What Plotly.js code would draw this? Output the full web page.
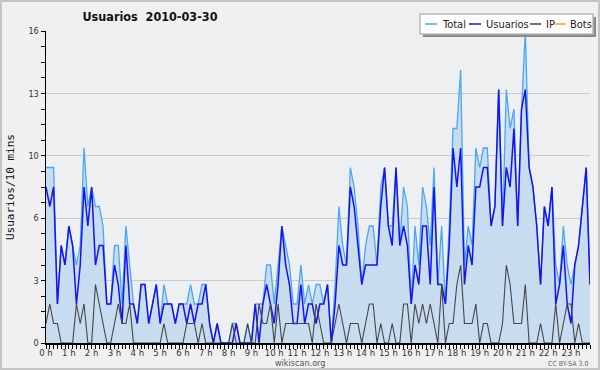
<!DOCTYPE html>
<html>
<head>
<meta charset="utf-8">
<script src="https://cdn.plot.ly/plotly-3.0.1.min.js"></script>
<style>
  html, body { margin: 0; padding: 0; background: #f0f0f0; }
  #wrap { position: relative; width: 600px; height: 370px; }
  #chart { width: 600px; height: 370px; }
  #frame { position: absolute; left: 0; top: 0; width: 600px; height: 370px; box-sizing: border-box; border: 2px solid #c4c4c4; pointer-events: none; }
</style>
</head>
<body>
<div id="wrap"><div id="chart"></div><div id="frame"></div></div>
<script>
// ---- data (one value per 10 minutes, 2010-03-30) ----
const hourLabels = ["0 h","1 h","2 h","3 h","4 h","5 h","6 h","7 h","8 h","9 h","10 h","11 h",
                    "12 h","13 h","14 h","15 h","16 h","17 h","18 h","19 h","20 h","21 h","22 h","23 h"];
const yTickVals = [0, 3.2, 6.4, 9.6, 12.8, 16];
const yTickText = ["0", "3", "6", "10", "13", "16"];

const total = [
  9,9,9,2,5,4,6,5,4,5,
  10,7,8,7,7,6,2,2,5,5,
  2,6,4,2,1,3,3,1,2,3,
  1,3,2,2,1,2,2,2,3,2,
  2,3,3,1,0,1,0,0,0,1,
  1,0,0,1,0,2,2,2,4,4,
  2,4,6,5,4,2,2,4,2,3,
  2,3,3,2,3,0,3,7,5,4,
  9,8,6,3,5,6,6,4,8,9,
  6,6,9,5,8,7,2,6,4,8,
  7,5,9,3,6,2,6,11,11,14,
  4,6,5,10,9,10,10,6,7,13,
  6,13,11,12,6,12,16,9,8,6,
  3,7,6,8,4,3,6,4,3,4,
  5,7,9,3];
const usuarios = [
  8,7,8,2,5,4,6,5,2,4,
  8,6,8,4,5,5,2,2,4,3,
  1,5,2,2,1,3,3,1,2,3,
  1,2,2,2,1,2,2,1,2,1,
  2,2,3,1,0,1,0,0,0,0,
  1,0,0,0,0,2,0,2,3,2,
  1,3,6,4,3,1,1,3,1,2,
  2,1,2,2,3,0,2,5,4,4,
  8,7,5,3,4,4,4,4,7,9,
  6,5,9,5,6,5,2,4,3,6,
  6,3,8,3,3,2,5,10,8,10,
  3,5,4,8,8,9,9,6,7,13,
  6,9,8,11,6,12,13,9,8,6,
  3,7,6,8,2,3,5,2,1,4,
  5,7,9,3];
const ip = [
  1,2,1,1,0,0,0,0,2,1,
  2,0,0,3,2,1,0,0,1,2,
  1,1,2,0,0,0,0,0,0,0,
  0,1,0,0,0,0,0,1,1,1,
  0,1,0,0,0,0,0,0,0,1,
  0,0,0,1,0,0,2,1,1,2,
  0,2,0,1,1,1,1,1,1,1,
  0,2,1,0,0,0,1,2,1,0,
  1,1,1,0,1,2,2,0,1,0,
  0,1,0,0,2,2,0,2,1,2,
  1,2,1,0,3,0,1,1,3,4,
  1,1,1,2,0,1,1,0,0,0,
  1,4,3,1,1,1,3,0,0,0,
  1,0,0,0,2,0,1,2,2,0,
  1,0,0,0];
const seriesNames = ["Total", "Usuarios", "IP", "Bots"];
const seriesColors = ["#4ba6f5", "#1414f0", "#454545", "#ffa31a"];

// time axis: hours, one sample every 10 minutes
const hours = total.map((_, i) => i * 10 / 60);
const hourTicks = hourLabels.map((_, h) => h);

// ---- layout helpers (pixel -> paper coordinates) ----
const L = 46, R = 10, T = 31, B = 27, W = 600, H = 370;
const PW = W - L - R, PH = H - T - B;
const xp = px => (px - L) / PW;
const yp = py => (H - B - py) / PH;

const FONT = "DejaVu Sans Condensed, DejaVu Sans, sans-serif";

const traces = [
  { x: hours, y: total, type: "scatter", mode: "lines", name: seriesNames[0],
    line: { color: seriesColors[0], width: 1.3 }, fill: "tozeroy", fillcolor: "#c7dcef",
    hoverinfo: "skip" },
  { x: hours, y: usuarios, type: "scatter", mode: "lines", name: seriesNames[1],
    line: { color: seriesColors[1], width: 1.5 }, hoverinfo: "skip" },
  { x: hours, y: ip, type: "scatter", mode: "lines", name: seriesNames[2],
    line: { color: seriesColors[2], width: 1.1 }, hoverinfo: "skip" }
];

// custom legend (box, shadow, samples, labels)
const legBox = { x0: 420, x1: 593, y0: 14, y1: 34 };
const legItems = [
  { lx0: 425, lx1: 437, tx: 440 },
  { lx0: 469, lx1: 481, tx: 484 },
  { lx0: 530, lx1: 541, tx: 544 },
  { lx0: 555, lx1: 566, tx: 568 }
];
const legY = 24;

const shapes = [
  { type: "rect", xref: "paper", yref: "paper", layer: "above",
    x0: xp(legBox.x0 + 3), x1: xp(legBox.x1 + 3), y0: yp(legBox.y1 + 3), y1: yp(legBox.y0 + 3),
    fillcolor: "#8a8a8a", line: { width: 0 } },
  { type: "rect", xref: "paper", yref: "paper", layer: "above",
    x0: xp(legBox.x0), x1: xp(legBox.x1), y0: yp(legBox.y1), y1: yp(legBox.y0),
    fillcolor: "#ffffff", line: { color: "#b8b8b8", width: 1.5 } }
];
const annotations = [];
legItems.forEach((it, k) => {
  shapes.push({ type: "line", xref: "paper", yref: "paper", layer: "above",
    x0: xp(it.lx0), x1: xp(it.lx1), y0: yp(legY), y1: yp(legY),
    line: { color: seriesColors[k], width: 1.5 } });
  annotations.push({ xref: "paper", yref: "paper", x: xp(it.tx), y: yp(legY),
    xanchor: "left", yanchor: "middle", showarrow: false, text: seriesNames[k],
    font: { family: FONT, size: 11, color: "#222" } });
});

annotations.push(
  { xref: "paper", yref: "paper", x: xp(10), y: yp(187), textangle: -90,
    xanchor: "center", yanchor: "middle", showarrow: false, text: "Usuarios/10 mins",
    font: { family: "DejaVu Sans Mono, monospace", size: 11, color: "#111" } },
  { xref: "paper", yref: "paper", x: xp(300), y: yp(363), xanchor: "center", yanchor: "middle",
    showarrow: false, text: "wikiscan.org", font: { family: FONT, size: 9, color: "#555" } },
  { xref: "paper", yref: "paper", x: xp(590), y: yp(364), xanchor: "right", yanchor: "middle",
    showarrow: false, text: "CC BY-SA 3.0", font: { family: FONT, size: 7, color: "#666" } }
);

const layout = {
  width: W, height: H,
  margin: { l: L, r: R, t: T, b: B, pad: 0 },
  paper_bgcolor: "#f0f0f0",
  plot_bgcolor: "#eeeff1",
  showlegend: false,
  title: { text: "Usuarios\u00a0\u00a02010-03-30", xref: "container", yref: "container",
           x: 150 / W, y: 1 - 17 / H, xanchor: "center", yanchor: "middle",
           font: { family: FONT, size: 12.5, color: "#111", weight: "bold" } },
  xaxis: {
    range: [0, hours[hours.length - 1]], fixedrange: true,
    tickmode: "array", tickvals: hourTicks, ticktext: hourLabels,
    ticks: "outside", ticklen: 4, tickwidth: 1, tickcolor: "#000",
    ticklabelstandoff: -4,
    minor: { tickmode: "linear", tick0: 0, dtick: 1 / 6, ticks: "outside", ticklen: 4, tickwidth: 1, tickcolor: "#000", showgrid: false },
    showline: true, linecolor: "#000", linewidth: 1.5,
    showgrid: false, zeroline: false,
    tickfont: { family: FONT, size: 9.5, color: "#333" }
  },
  yaxis: {
    range: [0, 16], fixedrange: true,
    tickmode: "array", tickvals: yTickVals, ticktext: yTickText,
    ticks: "outside", ticklen: 4, tickwidth: 1, tickcolor: "#000",
    minor: { tickmode: "linear", tick0: 0, dtick: 0.8, ticks: "outside", ticklen: 4, tickwidth: 1, tickcolor: "#000", showgrid: false },
    showline: true, linecolor: "#000", linewidth: 1.5,
    showgrid: true, gridcolor: "#cbcbcb", gridwidth: 1, zeroline: false,
    tickfont: { family: FONT, size: 9, color: "#333" }
  },
  shapes: shapes,
  annotations: annotations
};

Plotly.newPlot("chart", traces, layout, { staticPlot: true, displayModeBar: false });
</script>
</body>
</html>
